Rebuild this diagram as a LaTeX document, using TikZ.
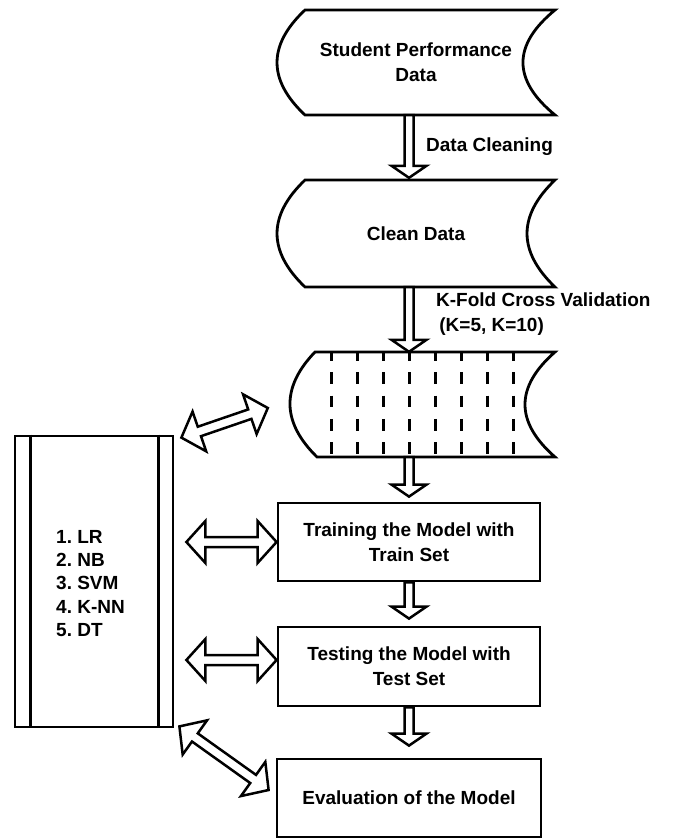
\documentclass[tikz,border=0pt]{standalone}
\usepackage{fontspec}
\setmainfont{Liberation Sans}
\usetikzlibrary{calc}
\tikzset{
  box/.style={draw=black, line width=2.8pt, fill=white, inner sep=0pt, align=center, font=\bfseries\fontsize{19}{25}\selectfont},
  ghost/.style={inner sep=0pt, align=center, font=\bfseries\fontsize{19}{25}\selectfont},
  outline/.style={draw=black, line width=2.8pt, fill=white, line join=miter},
  lbl/.style={inner sep=0pt, align=left, font=\bfseries\fontsize{19}{25}\selectfont},
  arrowline/.style={draw=black, line width=2.5pt, fill=white, line join=miter, miter limit=10},
  foldline/.style={draw=black, line width=3pt, dash pattern=on 11.7pt off 11.6pt, dash phase=2.5pt},
}
% single hollow arrow, tip at #2
\newcommand\sarrow[2]{%
  \coordinate (hA) at (#1);
  \coordinate (hB) at (#2);
  \coordinate (hH) at ($(hB)!12pt!(hA)$);
  \draw[arrowline] ($(hA)!4.5pt!90:(hB)$) -- ($(hH)!4.5pt!90:(hB)$) -- ($(hH)!17.5pt!90:(hB)$) -- (hB)
     -- ($(hH)!17.5pt!-90:(hB)$) -- ($(hH)!4.5pt!-90:(hB)$) -- ($(hA)!4.5pt!-90:(hB)$) -- cycle;
}
% double hollow arrow between #1 and #2
\newcommand\darrow[2]{%
  \coordinate (hA) at (#1);
  \coordinate (hB) at (#2);
  \coordinate (hP) at ($(hA)!19pt!(hB)$);
  \coordinate (hQ) at ($(hB)!19pt!(hA)$);
  \draw[arrowline] (hA) -- ($(hP)!21pt!90:(hB)$) -- ($(hP)!5pt!90:(hB)$) -- ($(hQ)!5pt!90:(hB)$)
     -- ($(hQ)!21pt!90:(hB)$) -- (hB) -- ($(hQ)!21pt!-90:(hB)$) -- ($(hQ)!5pt!-90:(hB)$)
     -- ($(hP)!5pt!-90:(hB)$) -- ($(hP)!21pt!-90:(hB)$) -- cycle;
}
\begin{document}
\frenchspacing
\begin{tikzpicture}[x=1pt, y=-1pt]
\useasboundingbox[fill=white] (0,0) rectangle (673,839);

% stored-data shapes
\draw[outline] (305,10) -- (555,10) .. controls (512.3,45) and (512.3,80) .. (555,115)
  -- (305,115) .. controls (267.7,80) and (267.7,45) .. (305,10) -- cycle;
\node[ghost, minimum width=278pt, minimum height=105pt] (spd) at (416,62.5) {Student Performance\\Data};

\draw[outline] (305,180) -- (555,180) .. controls (517.7,215.7) and (517.7,251.3) .. (555,287)
  -- (305,287) .. controls (267.7,251.3) and (267.7,215.7) .. (305,180) -- cycle;
\node[ghost, minimum width=278pt, minimum height=107pt] (cd) at (416,233.5) {Clean Data};

\draw[outline] (315,352) -- (555,352) .. controls (515,387) and (515,422) .. (555,457)
  -- (317,457) .. controls (281.3,422) and (281.3,387) .. (315,352) -- cycle;
\node[ghost, minimum width=265pt, minimum height=105pt] (fold) at (422.5,404.5) {};
\foreach \x in {331,357,383,409,435,461,487,513}
  \draw[foldline] (\x,351.5) -- (\x,455);

% process boxes
\node[box, minimum width=262pt, minimum height=78pt] (tr) at (409,542) {Training the Model with\\Train Set};
\node[box, minimum width=262pt, minimum height=79pt] (te) at (409,666.5) {Testing the Model with\\Test Set};
\node[box, minimum width=264pt, minimum height=78pt] (ev) at (409,798) {Evaluation of the Model};

% algorithms box
\node[box, minimum width=158pt, minimum height=291pt] (algo) at (94,581.5) {};
\draw[line width=2.8pt] ($(algo.north west)+(17,0)$) -- ($(algo.south west)+(17,0)$);
\draw[line width=2.8pt] ($(algo.north east)+(-16,0)$) -- ($(algo.south east)+(-16,0)$);
\node[lbl, anchor=west, font=\bfseries\fontsize{19}{23.3}\selectfont] (list) at (56,583.5) {1. LR\\2. NB\\3. SVM\\4. K-NN\\5. DT};

% vertical flow arrows
\sarrow{spd.south -| tr}{$(cd.north -| tr)+(0,-2)$}
\sarrow{cd.south -| tr}{fold.north -| tr}
\sarrow{fold.south -| tr}{$(tr.north)+(0,-5)$}
\sarrow{tr.south}{$(te.north)+(0,-7)$}
\sarrow{te.south}{$(ev.north)+(0,-12)$}

% labels
\node[lbl, anchor=west] (dclab) at (426,147) {Data Cleaning};
\node[lbl, anchor=west] (kflab) at (436,314.5) {K-Fold Cross Validation\\\,(K=5, K=10)};

% double arrows
\darrow{$(algo.north east)+(7,3)$}{$(fold.west)+(-22,3.5)$}
\darrow{$(algo.east |- tr)+(12,0)$}{tr.west}
\darrow{$(algo.east |- te)+(12,-6.5)$}{$(te.west)+(0,-6.5)$}
\darrow{$(algo.south east)+(5,-2)$}{$(ev.west)+(-7,-8)$}
\end{tikzpicture}
\end{document}
